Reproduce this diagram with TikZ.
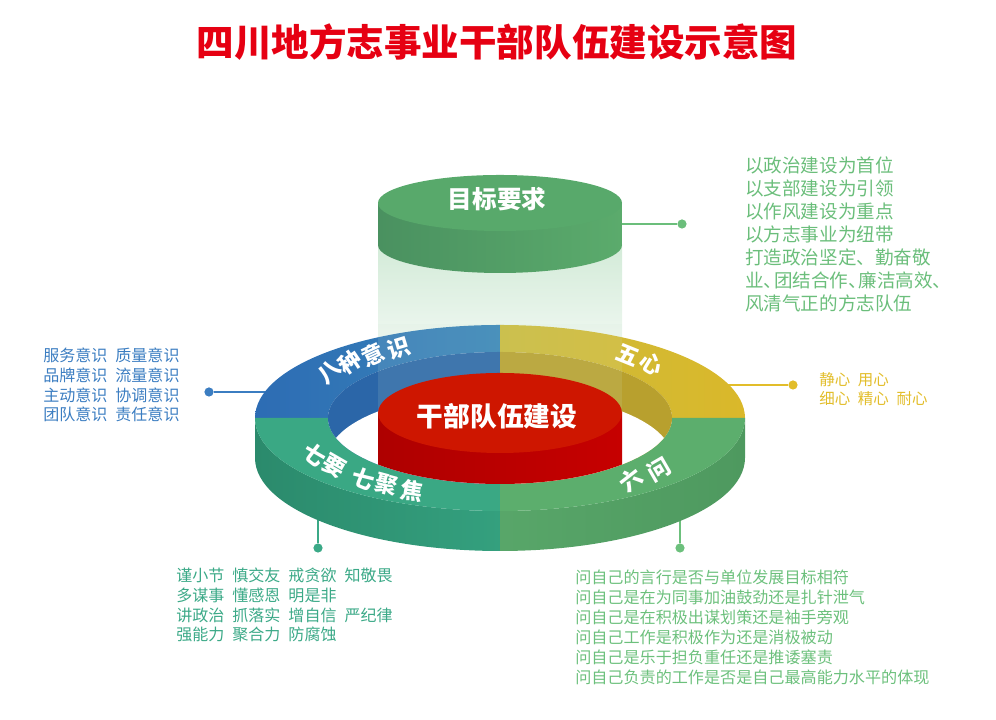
\documentclass[tikz,border=0pt]{standalone}
\usepackage{fontspec}
\setmainfont{Noto Sans CJK SC}
\usepackage{tikz}
\usetikzlibrary{positioning}
\definecolor{titlered}{HTML}{E60012}
\definecolor{eightblue}{HTML}{3B7DC1}
\definecolor{blueL}{HTML}{2D6CB4}
\definecolor{blueR}{HTML}{3885B8}
\definecolor{wallblue}{HTML}{2B66A8}
\definecolor{fiveyellow}{HTML}{E2BD2A}
\definecolor{yellowL}{HTML}{CBBB3C}
\definecolor{yellowR}{HTML}{DAB82A}
\definecolor{wallyellow}{HTML}{B8A02E}
\definecolor{seventeal}{HTML}{3BA987}
\definecolor{tealtop}{HTML}{3AA884}
\definecolor{tealsideL}{HTML}{2B8A6C}
\definecolor{tealsideR}{HTML}{34A07E}
\definecolor{sixgreen}{HTML}{6CC07C}
\definecolor{greentop}{HTML}{5CAE6D}
\definecolor{greensideL}{HTML}{58A669}
\definecolor{greensideR}{HTML}{4E995F}
\definecolor{goalgreen}{HTML}{6BBE7B}
\definecolor{goaltop}{HTML}{58A96B}
\definecolor{goalsideL}{HTML}{4A9160}
\definecolor{goalsideR}{HTML}{5BAB6C}
\definecolor{columntop}{HTML}{D3EBD8}
\definecolor{columnbot}{HTML}{EEF7F0}
\definecolor{redtop}{HTML}{CE1600}
\definecolor{redsideL}{HTML}{AE0000}
\definecolor{redsideR}{HTML}{C60000}
\newcommand\dun{、\hspace{-0.45em}}

\begin{document}
\begin{tikzpicture}[x=0.025cm,y=0.025cm,
  ringlabel/.style={text=white,font=\bfseries\fontsize{16pt}{16pt}\selectfont,inner sep=0pt},
  enddot/.style={circle,fill=#1,inner sep=0pt,minimum size=2.3mm},
  link/.style={draw=#1,line width=0.9pt},
  notes/.style={align=left,anchor=north west,inner sep=0pt,text=#1}
]
\useasboundingbox (0,0) rectangle (996,720);

% title
\node[text=titlered,font=\bfseries\fontsize{26.7pt}{26.7pt}\selectfont] (title) at (497,678) {四川地方志事业干部队伍建设示意图};

% connectors, behind the ring
\coordinate (eightedge) at (268,328);
\coordinate (fiveedge) at (726,335);
\coordinate (sevenedge) at (318,205);
\coordinate (sixedge) at (680,205);
\coordinate (goaledge) at (618,496);
\node[enddot=eightblue] (eightdot) at (209,328) {};
\node[enddot=fiveyellow] (fivedot) at (793,335) {};
\node[enddot=seventeal] (sevendot) at (318,172) {};
\node[enddot=sixgreen] (sixdot) at (680,172) {};
\node[enddot=goalgreen] (goaldot) at (682,496) {};
\draw[link=eightblue] (eightdot) -- (eightedge);
\draw[link=fiveyellow] (fivedot) -- (fiveedge);
\draw[link=seventeal] (sevendot) -- (sevenedge);
\draw[link=sixgreen] (sixdot) -- (sixedge);
\draw[link=goalgreen] (goaldot) -- (goaledge);

% light column under the goal cylinder
\shade[top color=columntop,bottom color=columnbot] (378,475) rectangle (622,380);

% ring: front side
\shade[left color=tealsideL,right color=tealsideR] (255,302) arc[start angle=180,end angle=270,x radius=245,y radius=93] -- (500,169) arc[start angle=270,end angle=180,x radius=245,y radius=93] -- cycle;
\shade[left color=greensideL,right color=greensideR] (500,209) arc[start angle=270,end angle=360,x radius=245,y radius=93] -- (745,262) arc[start angle=0,end angle=-90,x radius=245,y radius=93] -- cycle;
% ring: top face
\shade[left color=blueL,right color=blueR] (255,302) arc[start angle=180,end angle=90,x radius=245,y radius=93] -- (500,368) arc[start angle=90,end angle=180,x radius=172,y radius=66] -- cycle;
\shade[left color=yellowL,right color=yellowR] (500,395) arc[start angle=90,end angle=0,x radius=245,y radius=93] -- (672,302) arc[start angle=0,end angle=90,x radius=172,y radius=66] -- cycle;
\fill[tealtop] (255,302) arc[start angle=180,end angle=270,x radius=245,y radius=93] -- (500,236) arc[start angle=270,end angle=180,x radius=172,y radius=66] -- cycle;
\fill[greentop] (500,209) arc[start angle=270,end angle=360,x radius=245,y radius=93] -- (672,302) arc[start angle=0,end angle=-90,x radius=172,y radius=66] -- cycle;
% ring: inner wall
\begin{scope}
  \clip (500,302) ellipse[x radius=172,y radius=66];
  \fill[wallblue] (320,230) rectangle (500,372);
  \fill[wallyellow] (500,230) rectangle (680,372);
  \fill[white] (500,262) ellipse[x radius=172,y radius=66];
\end{scope}
% faint trace of the column over the ring
\fill[columntop,fill opacity=0.12] (378,396) rectangle (622,302);

% core cylinder
\begin{scope}
  \clip (500,302) ellipse[x radius=172,y radius=66];
  \shade[left color=redsideL,right color=redsideR] (378,307) rectangle (622,200);
  \fill[redtop] (500,307) ellipse[x radius=122,y radius=40];
\end{scope}
\node[text=white,font=\bfseries\fontsize{19pt}{19pt}\selectfont] (core) at (497,304) {干部队伍建设};

% goal cylinder
\shade[left color=goalsideL,right color=goalsideR] (378,517) -- (378,475) arc[start angle=180,end angle=360,x radius=122,y radius=28] -- (622,517) -- cycle;
\fill[goaltop] (500,517) ellipse[x radius=122,y radius=28];
\node[text=white,font=\bfseries\fontsize{17.5pt}{17.5pt}\selectfont] (goal) at (497,521) {目标要求};

% labels on the ring
\foreach \ch/\t/\r [count=\i] in {八/145/44,种/136/34,意/127.5/25,识/119/17}
  \node[ringlabel,rotate=\r] (eight\i) at ({500+208*cos(\t)},{302+80*sin(\t)}) {\ch};
\foreach \ch/\t/\r [count=\i] in {五/52/-22,心/43/-31}
  \node[ringlabel,rotate=\r] (five\i) at ({500+208*cos(\t)},{302+80*sin(\t)}) {\ch};
\foreach \ch/\t/\r [count=\i] in {七/207/-38,要/217/-30,七/229/-22,聚/237/-15,焦/245/-9}
  \node[ringlabel,rotate=\r] (seven\i) at ({500+208*cos(\t)},{302+80*sin(\t)}) {\ch};
\foreach \ch/\t/\r [count=\i] in {六/309/38,问/320/30}
  \node[ringlabel,rotate=\r] (six\i) at ({500+208*cos(\t)},{302+80*sin(\t)}) {\ch};

% side notes
\node[notes=goalgreen,font=\fontsize{13.2pt}{16.35pt}\selectfont] (goaltext) at (745,563)
  {以政治建设为首位\\以支部建设为引领\\以作风建设为重点\\以方志事业为纽带\\打造政治坚定、勤奋敬\\业\dun 团结合作\dun 廉洁高效\dun\\风清气正的方志队伍};
\node[notes=eightblue,font=\fontsize{11.4pt}{14pt}\selectfont] (eighttext) at (43,372)
  {服务意识\enspace 质量意识\\品牌意识\enspace 流量意识\\主动意识\enspace 协调意识\\团队意识\enspace 责任意识};
\node[notes=fiveyellow,font=\fontsize{11pt}{13.5pt}\selectfont] (fivetext) at (819,348)
  {静心\enspace 用心\\细心\enspace 精心\enspace 耐心};
\node[notes=seventeal,font=\fontsize{11.4pt}{14pt}\selectfont] (seventext) at (176,152)
  {谨小节\enspace 慎交友\enspace 戒贪欲\enspace 知敬畏\\多谋事\enspace 懂感恩\enspace 明是非\\讲政治\enspace 抓落实\enspace 增自信\enspace 严纪律\\强能力\enspace 聚合力\enspace 防腐蚀};
\node[notes=sixgreen,font=\fontsize{11.45pt}{14.1pt}\selectfont] (sixtext) at (575,150)
  {问自己的言行是否与单位发展目标相符\\问自己是在为同事加油鼓劲还是扎针泄气\\问自己是在积极出谋划策还是袖手旁观\\问自己工作是积极作为还是消极被动\\问自己是乐于担负重任还是推诿塞责\\问自己负责的工作是否是自己最高能力水平的体现};
\end{tikzpicture}
\end{document}
